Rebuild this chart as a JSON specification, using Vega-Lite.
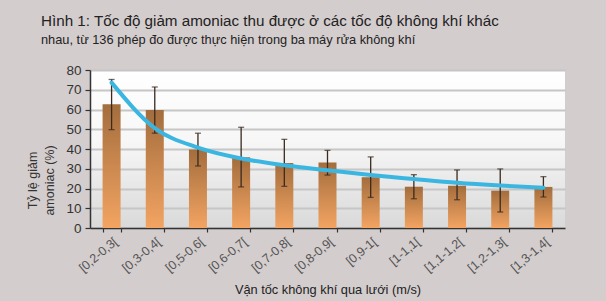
{
  "$schema": "https://vega.github.io/schema/vega-lite/v6.json",
  "width": 475,
  "height": 158,
  "autosize": "none",
  "padding": {"left": 90, "top": 70, "right": 41, "bottom": 73},
  "background": "#d4cdcd",
  "title": {
    "text": "Hình 1: Tốc độ giảm amoniac thu được ở các tốc độ không khí khác",
    "subtitle": "nhau, từ 136 phép đo được thực hiện trong ba máy rửa không khí",
    "anchor": "start",
    "frame": "group",
    "dx": -49,
    "offset": 16,
    "font": "Liberation Sans",
    "fontSize": 15.2,
    "fontWeight": "normal",
    "color": "#222222",
    "subtitleFont": "Liberation Sans",
    "subtitleFontSize": 12.8,
    "subtitleColor": "#222222",
    "subtitlePadding": 5
  },
  "config": {
    "font": "Liberation Sans",
    "view": {
      "stroke": null,
      "fill": {"gradient": "linear", "x1": 0, "y1": 0, "x2": 0, "y2": 1,
        "stops": [{"offset": 0, "color": "#ffffff"}, {"offset": 0.45, "color": "#f7f7f7"}, {"offset": 1, "color": "#d9d9d9"}]}
    },
    "axisY": {
      "tickCount": 8,
      "labelOverlap": false,
      "titleFontSize": 12.5, "titleFontWeight": "normal", "titleColor": "#333333",
      "titleAngle": -90, "titleAlign": "center", "titleBaseline": "middle",
      "titleX": -58, "titleY": 110, "titleLineHeight": 17,
      "labelFontSize": 13.5, "labelColor": "#333333", "labelPadding": 4,
      "domainColor": "#333333", "domainWidth": 1.5,
      "tickColor": "#333333", "tickSize": 5, "tickWidth": 1.2,
      "grid": true, "gridColor": "#c6c6c6", "gridWidth": 2
    }
  },
  "data": {
    "values": [
      {"cat": "[0,2-0,3[", "value": 62.6, "lo": 49.8, "hi": 75.2, "trend": 73.6},
      {"cat": "[0,3-0,4[", "value": 59.7, "lo": 48.0, "hi": 71.4, "trend": 50.6},
      {"cat": "[0,5-0,6[", "value": 39.8, "lo": 31.4, "hi": 48.0, "trend": 40.7},
      {"cat": "[0,6-0,7[", "value": 35.8, "lo": 20.8, "hi": 51.0, "trend": 35.2},
      {"cat": "[0,7-0,8[", "value": 32.9, "lo": 21.1, "hi": 44.9, "trend": 31.8},
      {"cat": "[0,8-0,9[", "value": 33.2, "lo": 26.8, "hi": 39.3, "trend": 29.2},
      {"cat": "[0,9-1[", "value": 25.7, "lo": 15.5, "hi": 36.0, "trend": 26.8},
      {"cat": "[1-1,1[", "value": 20.9, "lo": 14.8, "hi": 27.0, "trend": 24.8},
      {"cat": "[1,1-1,2[", "value": 21.4, "lo": 14.3, "hi": 29.4, "trend": 22.9},
      {"cat": "[1,2-1,3[", "value": 18.9, "lo": 8.1, "hi": 29.9, "trend": 21.5},
      {"cat": "[1,3-1,4[", "value": 20.8, "lo": 15.7, "hi": 26.0, "trend": 20.4}
    ]
  },
  "encoding": {
    "x": {
      "field": "cat", "type": "nominal", "sort": null,
      "scale": {"paddingInner": 0.58, "paddingOuter": 0.29},
      "axis": {
        "title": "Vận tốc không khí qua lưới (m/s)",
        "titleFontSize": 12.8, "titleFontWeight": "normal", "titleColor": "#222222",
        "titleBaseline": "alphabetic", "titleY": 65,
        "labelAngle": -40, "labelFontSize": 12.5, "labelColor": "#555555",
        "labelPadding": 3, "labelOverlap": false,
        "domainColor": "#333333", "domainWidth": 1.5,
        "tickColor": "#333333", "tickSize": 4, "tickBand": "extent", "tickWidth": 1.2,
        "grid": false
      }
    }
  },
  "layer": [
    {
      "mark": {"type": "bar", "width": 18,
        "color": {"gradient": "linear", "x1": 0, "y1": 0, "x2": 0, "y2": 1,
          "stops": [{"offset": 0, "color": "#a36d3d"}, {"offset": 1, "color": "#f3a462"}]}},
      "encoding": {
        "y": {
          "field": "value", "type": "quantitative",
          "scale": {"domain": [0, 80], "nice": false},
          "axis": {"title": ["Tỷ lệ giảm", "amoniac (%)"]}
        }
      }
    },
    {
      "mark": {"type": "rule", "color": "#3a2a20", "strokeWidth": 1.3},
      "encoding": {
        "y": {"field": "lo", "type": "quantitative", "axis": {"title": ["Tỷ lệ giảm", "amoniac (%)"]}},
        "y2": {"field": "hi"}
      }
    },
    {
      "mark": {"type": "tick", "color": "#3a2a20", "size": 6, "thickness": 1.3},
      "encoding": {"y": {"field": "lo", "type": "quantitative", "axis": {"title": ["Tỷ lệ giảm", "amoniac (%)"]}}}
    },
    {
      "mark": {"type": "tick", "color": "#3a2a20", "size": 6, "thickness": 1.3},
      "encoding": {"y": {"field": "hi", "type": "quantitative", "axis": {"title": ["Tỷ lệ giảm", "amoniac (%)"]}}}
    },
    {
      "mark": {"type": "line", "color": "#3bb6e0", "strokeWidth": 4, "interpolate": "monotone", "strokeCap": "round"},
      "encoding": {"y": {"field": "trend", "type": "quantitative", "axis": {"title": ["Tỷ lệ giảm", "amoniac (%)"]}}}
    }
  ]
}
